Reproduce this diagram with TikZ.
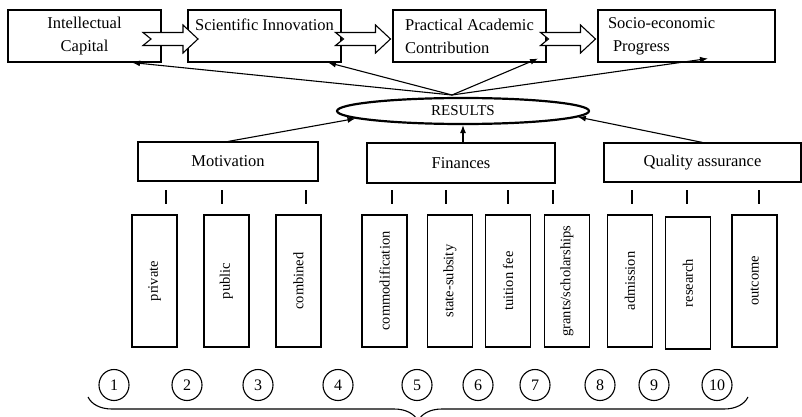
\documentclass[tikz,border=0pt]{standalone}
\usepackage{fontspec}
\setmainfont{Liberation Serif}
\usetikzlibrary{arrows.meta,shapes.geometric,calc,decorations.pathreplacing}

\begin{document}
\begin{tikzpicture}[x=1pt,y=-1pt,
    box/.style={draw,line width=1.1pt,minimum height=52,font=\fontsize{16.5}{23}\selectfont},
    grp/.style={draw,line width=1.1pt,minimum height=39,font=\fontsize{16.5}{20}\selectfont},
    vbox/.style={draw,line width=1.1pt,rotate=90,minimum width=132,minimum height=45,
      font=\fontsize{14.5}{17}\selectfont},
    num/.style={draw,ellipse,line width=1.1pt,minimum width=30,minimum height=31,inner sep=0pt,
      font=\fontsize{16}{18}\selectfont},
    arr/.style={-{Latex[length=8,width=6]},line width=1.1pt},
    barr/.style={draw,fill=white,line width=1.1pt}]
  \useasboundingbox (0,0) rectangle (802,417);

  % top row
  \node[box,minimum width=153,align=center] (ic) at (84.5,36) {Intellectual\\Capital};
  \node[box,minimum width=153,align=center] (si) at (264.5,36) {Scientific Innovation\\ \mbox{}};
  \node[box,minimum width=153,align=left] (pac) at (469.5,36) {Practical Academic\\Contribution};
  \node[box,minimum width=177,text width=157,align=left] (sep) at (686.5,36)
    {Socio-economic\\\hspace*{5pt}Progress};
  \foreach \s/\t in {ic/si,si/pac,pac/sep}
    \draw[barr] ($(\s.east)!0.5!(\t.west)+(-4,3)$) ++(-27.5,-6.5) -- ++(40,0) -- ++(0,-7.5)
      -- ++(15,14) -- ++(-15,14) -- ++(0,-7.5) -- ++(-40,0) -- ++(8,-6.5) -- cycle;

  % results
  \node[draw,ellipse,line width=2.2pt,minimum width=252,minimum height=26,inner sep=0pt,
    font=\fontsize{15}{18}\selectfont] (res) at (463,111) {RESULTS};
  \coordinate (hub) at (452,95);
  \draw[arr] (hub) -- ($(ic.south)+(47.5,0)$);
  \draw[arr] (hub) -- ($(si.south)+(63.5,0)$);
  \draw[arr] (hub) -- ($(pac.south)+(68.5,-4)$);
  \draw[arr] (hub) -- ($(sep.south)+(21.5,-4)$);

  % middle row
  \node[grp,minimum width=180] (mot) at (228,161.5) {Motivation};
  \node[grp,minimum width=188,minimum height=40] (fin) at (461,163) {Finances};
  \node[grp,minimum width=197] (qa) at (702.5,162.5) {Quality assurance};
  \draw[arr] (mot.north) -- (res.184);
  \draw[arr] (res.south |- fin.north) -- (res.south);
  \draw[arr] (qa.north) -- (res.-3);

  % ticks
  \foreach \x in {166,222,306,392,446,508,553,632,687,759}
    \draw[line width=1.1pt] (\x,190) -- (\x,204);

  % vertical boxes
  \foreach \x/\y/\t [count=\i] in {154.5/281/private,226.5/281/public,298.5/281/combined,
      384.5/281/commodification,450/281/state-subsity,508/281/tuition fee,
      567/281/{grants/scholarships},630/281/admission,688/283/research,754.5/281/outcome}
    \node[vbox] (v\i) at (\x,\y) {\t};

  % numbers
  \foreach \x [count=\i] in {114,187,258,338,417,478,535,600,654,717}
    \node[num] (n\i) at (\x,385) {\i};
  \draw[decorate,decoration={brace,mirror,amplitude=24pt},line width=1.1pt] (88,397) -- (748,397);
\end{tikzpicture}
\end{document}
